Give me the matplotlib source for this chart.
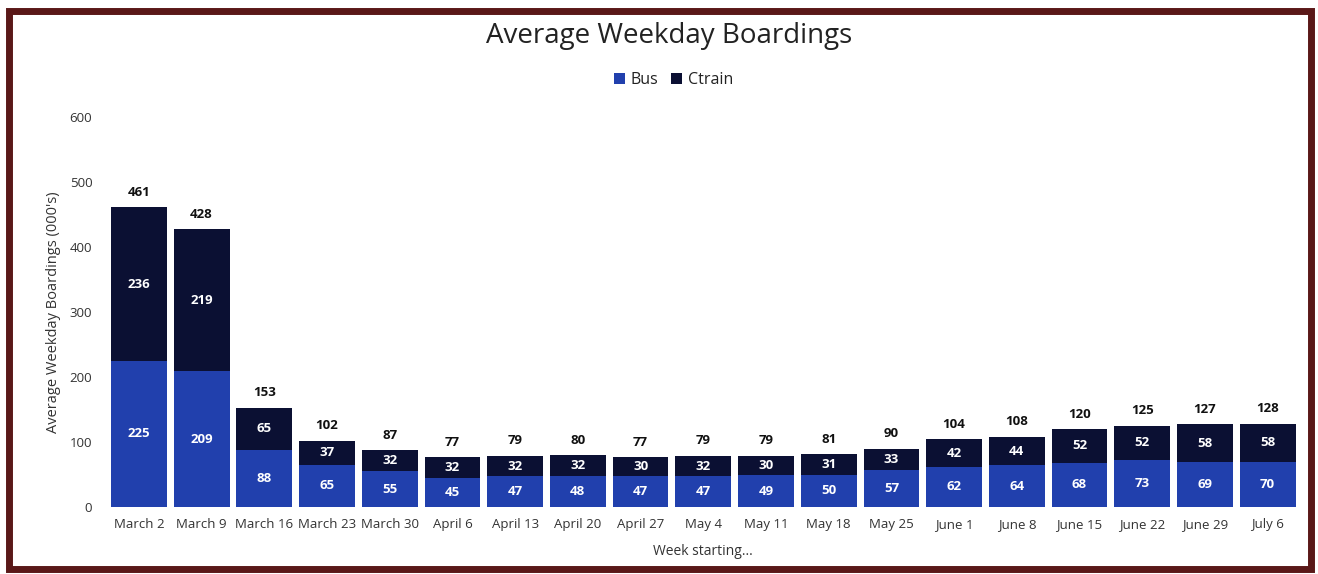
import matplotlib
matplotlib.use("Agg")
import matplotlib.pyplot as plt
from matplotlib.patches import Rectangle
import numpy as np

plt.rcParams['font.family'] = ['Open Sans', 'DejaVu Sans']

weeks = ["March 2", "March 9", "March 16", "March 23", "March 30", "April 6",
         "April 13", "April 20", "April 27", "May 4", "May 11", "May 18",
         "May 25", "June 1", "June 8", "June 15", "June 22", "June 29", "July 6"]
bus = [225, 209, 88, 65, 55, 45, 47, 48, 47, 47, 49, 50, 57, 62, 64, 68, 73, 69, 70]
ctrain = [236, 219, 65, 37, 32, 32, 32, 32, 30, 32, 30, 31, 33, 42, 44, 52, 52, 58, 58]
totals = [461, 428, 153, 102, 87, 77, 79, 80, 77, 79, 79, 81, 90, 104, 108, 120, 125, 127, 128]

bus_color = "#2140ad"
ctrain_color = "#0b1033"

fig = plt.figure(figsize=(13.18, 5.74), dpi=100)
ax = fig.add_axes([0.0816, 0.1167, 0.904, 0.6793])

x = np.arange(len(weeks))
w = 0.89
ax.bar(x, bus, w, color=bus_color, label="Bus")
ax.bar(x, ctrain, w, bottom=bus, color=ctrain_color, label="Ctrain")

for i in range(len(weeks)):
    ax.text(x[i], bus[i] / 2, str(bus[i]), ha='center', va='center',
            color='white', fontsize=9.5, fontweight='bold')
    ax.text(x[i], bus[i] + ctrain[i] / 2, str(ctrain[i]), ha='center', va='center',
            color='white', fontsize=9.5, fontweight='bold')
    ax.annotate(str(totals[i]), (x[i], totals[i]), xytext=(0, 6),
                textcoords='offset points', ha='center', va='bottom',
                fontsize=9.5, fontweight='bold', color='#111111')

ax.set_xlim(-0.5, len(weeks) - 0.5)
ax.set_ylim(0, 600)
ax.set_yticks([0, 100, 200, 300, 400, 500, 600])
ax.set_xticks(x)
ax.set_xticklabels(weeks)
ax.tick_params(axis='both', length=0, labelsize=9.5, colors='#333333')
ax.tick_params(axis='x', pad=8)
ax.tick_params(axis='y', pad=11)
for s in ax.spines.values():
    s.set_visible(False)

ax.set_ylabel("Average Weekday Boardings (000's)", fontsize=10.5, color='#333333', labelpad=6)
ax.set_xlabel("Week starting...", fontsize=10, color='#333333', labelpad=9)

fig.text(0.508, 0.938, "Average Weekday Boardings", ha='center', va='center',
         fontsize=20, color='#222222')
leg = fig.legend(loc='center', bbox_to_anchor=(0.511, 0.86), ncol=2, frameon=False,
                 fontsize=11.5, handlelength=0.7, handleheight=0.7, handletextpad=0.35,
                 columnspacing=0.8)
for t in leg.get_texts():
    t.set_color('#222222')

fig.patches.append(Rectangle((0.0065, 0.009), 0.988, 0.972, transform=fig.transFigure,
                             fill=False, edgecolor='#5a1818', linewidth=5))

fig.savefig("out.png", dpi=100)
